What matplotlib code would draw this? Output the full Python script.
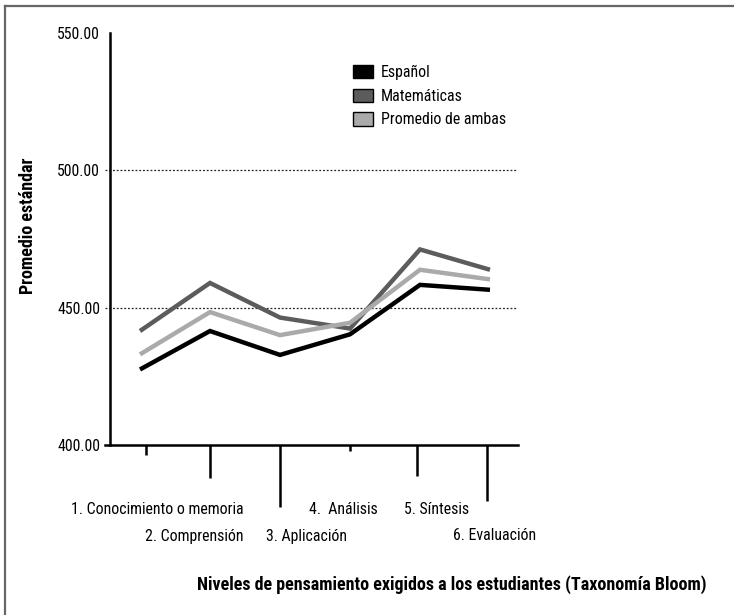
import matplotlib
matplotlib.use("Agg")
import matplotlib.pyplot as plt
from matplotlib import font_manager
from matplotlib.font_manager import FontProperties
from matplotlib.lines import Line2D
from matplotlib.patches import Rectangle

# ---- find a condensed / narrow font if any is installed ----
ttf = font_manager.fontManager.ttflist
prefs = ["RobotoCondensed", "Roboto Condensed", "LiberationSansNarrow", "Liberation Sans Narrow",
         "DejaVuSansCondensed", "DejaVu Sans Condensed", "OpenSans_Condensed", "OpenSans-Condensed",
         "NotoSans-Condensed", "NotoSansCondensed", "Condensed", "Narrow"]


def pick(bold):
    for key in prefs:
        for f in ttf:
            fn = f.fname.replace(" ", "")
            k = key.replace(" ", "")
            if k.lower() in fn.lower() and "italic" not in fn.lower() and "oblique" not in fn.lower():
                isbold = f.weight in ("bold", 700) or (isinstance(f.weight, int) and f.weight >= 600) \
                    or "bold" in fn.lower()
                if "semibold" in fn.lower() or "extrabold" in fn.lower() or "light" in fn.lower() \
                        or "thin" in fn.lower() or "medium" in fn.lower() or "black" in fn.lower():
                    continue
                if isbold == bold:
                    return f.fname
    return None


reg_file = pick(False)
bold_file = pick(True)
REG = FontProperties(fname=reg_file) if reg_file else FontProperties(family="DejaVu Sans")
BOLD = FontProperties(fname=bold_file) if bold_file else FontProperties(family="DejaVu Sans", weight="bold")

categories = ["1. Conocimiento o memoria", "2. Comprensión", "3. Aplicación",
              "4.  Análisis", "5. Síntesis", "6. Evaluación"]
espanol = [427.5, 441.5, 432.8, 440.3, 458.3, 456.5]
matematicas = [441.5, 459.0, 446.4, 442.4, 471.2, 463.8]
promedio = [433.0, 448.4, 440.0, 444.5, 463.8, 460.3]
series_names = ["Español", "Matemáticas", "Promedio de ambas"]
yticks = [400, 450, 500, 550]

W, H = 734, 615
fig = plt.figure(figsize=(W / 100, H / 100), dpi=100)

x0, x1, ytop, ybot = 105, 518, 33, 445
ax = fig.add_axes([x0 / W, 1 - ybot / H, (x1 - x0) / W, (ybot - ytop) / H])
px_per_unit = 70.0
xmin = -(140 - x0) / px_per_unit
xmax = xmin + (x1 - x0) / px_per_unit
ax.set_xlim(xmin, xmax)
ax.set_ylim(400, 550)

xs = list(range(len(categories)))
colors = ["#000000", "#5c5c5c", "#aaaaaa"]
for vals, c in zip([matematicas, promedio, espanol], [colors[1], colors[2], colors[0]]):
    ax.plot(xs, vals, color=c, lw=3.2, solid_capstyle="butt", solid_joinstyle="miter", zorder=3)

for yv in [450, 500]:
    ax.axhline(yv, color="#222222", lw=0.9, ls=(0, (1.5, 1.5)), zorder=1)

for s in ["top", "right"]:
    ax.spines[s].set_visible(False)
ax.spines["left"].set_position(("data", xmin + 5 / px_per_unit))
ax.spines["left"].set_linewidth(1.8)
ax.spines["bottom"].set_linewidth(1.8)

ax.set_yticks(yticks)
ax.set_yticklabels([f"{v:.2f}" for v in yticks])
ax.tick_params(axis="y", length=0, pad=7)

tick_pos = [0.08, 1.0, 2.0, 3.0, 3.95, 4.95]
tick_len_px = [10, 33, 62, 6, 31, 56]
ax.set_xticks(tick_pos)
ax.set_xticklabels([])
ax.tick_params(axis="x", width=1.8, direction="out")
for t, L in zip(ax.xaxis.get_major_ticks(), tick_len_px):
    t.tick1line.set_markersize(L * 0.72)

label_offsets = [(12, -64), (-16, -91), (26, -91), (-7, -64), (20, -64), (8, -91)]
cat_texts = []
for x, lab, (dx, dy) in zip(tick_pos, categories, label_offsets):
    t = ax.annotate(lab, xy=(x, 0), xycoords=("data", "axes fraction"),
                    xytext=(dx * 0.72, dy * 0.72), textcoords="offset points",
                    ha="center", va="center", fontproperties=REG.copy())
    cat_texts.append(t)

ylab = fig.text(28 / W, 1 - 226 / H, "Promedio estándar", rotation=90, ha="center",
                va="center", fontproperties=BOLD.copy())
xlab = fig.text(452 / W, 1 - 585 / H,
                "Niveles de pensamiento exigidos a los estudiantes (Taxonomía Bloom)",
                ha="center", va="center", fontproperties=BOLD.copy())

# calibrate font sizes from target widths measured on the reference
renderer = fig.canvas.get_renderer()
base = 12.0
for t in cat_texts + ax.get_yticklabels() + [ylab, xlab]:
    t.set_fontsize(base)
w_reg = cat_texts[0].get_window_extent(renderer).width
reg_size = base * 173.0 / w_reg
w_bold = xlab.get_window_extent(renderer).width
bold_size = base * 510.0 / w_bold
for t in cat_texts:
    t.set_fontsize(reg_size)
for t in ax.get_yticklabels():
    t.set_fontproperties(REG.copy())
    t.set_fontsize(reg_size)
ylab.set_fontsize(bold_size)
xlab.set_fontsize(bold_size)

leg_prop = REG.copy()
leg_prop.set_size(reg_size)
handles = [Rectangle((0, 0), 1, 1, facecolor=c, edgecolor="#000000", lw=1) for c in colors]
leg = fig.legend(handles, series_names, loc="upper left",
                 bbox_to_anchor=(348 / W, 1 - 60 / H), frameon=False,
                 prop=leg_prop, handlelength=1.3, handleheight=0.9,
                 handletextpad=0.45, labelspacing=0.55, borderaxespad=0, borderpad=0.3)

fig.add_artist(Line2D([4.5 / W, 1], [1 - 5.5 / H, 1 - 5.5 / H], color="#666666", lw=1.6,
                      transform=fig.transFigure))
fig.add_artist(Line2D([4.5 / W, 4.5 / W], [0, 1 - 5.5 / H], color="#666666", lw=1.6,
                      transform=fig.transFigure))

fig.savefig("out.png", dpi=100)
